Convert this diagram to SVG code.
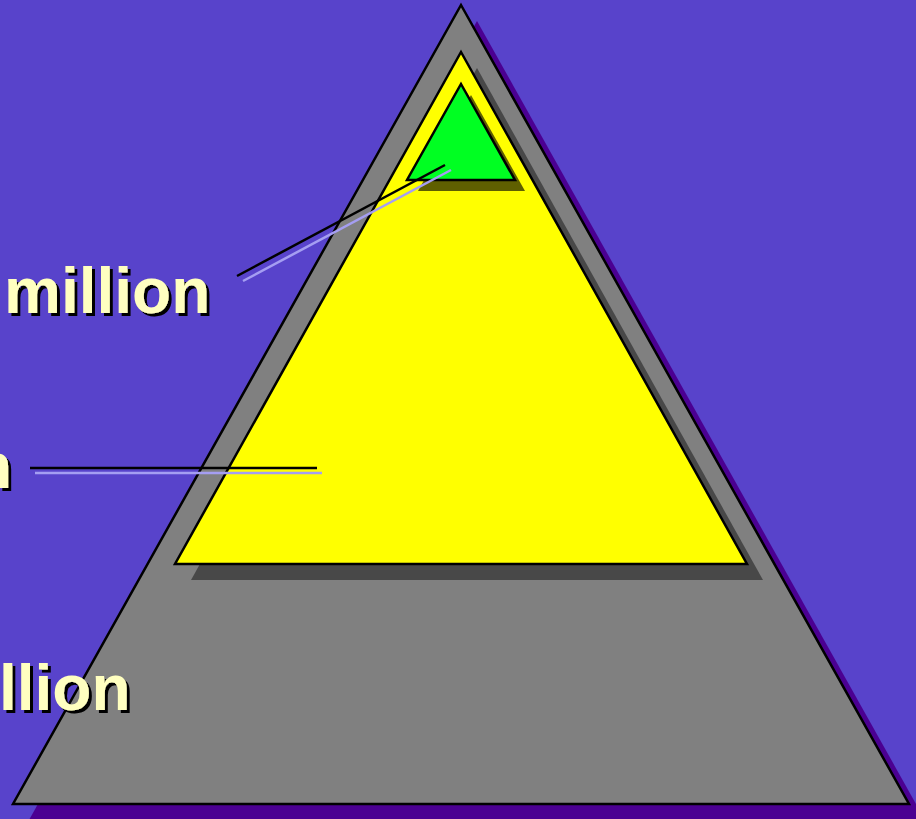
<svg xmlns="http://www.w3.org/2000/svg" width="916" height="819" viewBox="0 0 916 819">
  <defs>
    <filter id="ts" x="-10%" y="-10%" width="130%" height="130%">
      <feOffset in="SourceAlpha" dx="3" dy="3" result="off"/>
      <feFlood flood-color="#000"/>
      <feComposite in2="off" operator="in" result="sh"/>
      <feMerge>
        <feMergeNode in="sh"/>
        <feMergeNode in="SourceGraphic"/>
      </feMerge>
    </filter>
  </defs>
  <style>
    .edge { stroke: #000; stroke-width: 2.5; stroke-linejoin: miter; }
    .lbl { font-family: "Liberation Sans", Arial, sans-serif; font-weight: bold; font-size: 64px; fill: #ffffc0; filter: url(#ts); }
    .lead { stroke: #000; stroke-width: 2.5; }
    .leadhi { stroke: #a59ef2; stroke-width: 2.5; }
  </style>
  <rect width="916" height="819" fill="#5843cb"/>

  <g id="base-tier">
    <polygon points="477,21 925,820 29,820" fill="#4b0092"/>
    <polygon class="edge" points="461,5 909,804 13,804" fill="#808080"/>
  </g>

  <g id="middle-tier">
    <polygon points="477,68 763,580 191,580" fill="#484848"/>
    <polygon class="edge" points="461,52 747,564 175,564" fill="#ffff00"/>
  </g>

  <g id="top-tier">
    <polygon points="471,95 525,191 418,191" fill="#5f5f00"/>
    <polygon class="edge" points="461,84 515,180 407,180" fill="#00ff22"/>
  </g>

  <g id="connectors">
    <line class="lead" x1="237" y1="276" x2="445" y2="165"/>
    <line class="leadhi" x1="243" y1="281" x2="451" y2="170"/>
    <line class="lead" x1="30" y1="468" x2="317" y2="468"/>
    <line class="leadhi" x1="35" y1="473" x2="322" y2="473"/>
  </g>

  <g id="label-top">
    <text class="lbl" x="4" y="313">million</text>
  </g>
  <g id="label-middle">
    <text class="lbl" x="-27" y="488">n</text>
  </g>
  <g id="label-bottom">
    <text class="lbl" x="-1" y="710">llion</text>
  </g>
</svg>
